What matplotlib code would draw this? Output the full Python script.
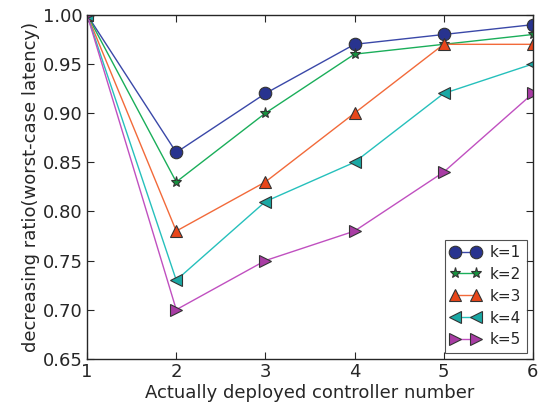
import numpy as np
import matplotlib.pyplot as plt

# controller count on the x axis
controllers = [1, 2, 3, 4, 5, 6]

# worst-case latency decreasing ratio for each k
k1 = [1.00, 0.86, 0.92, 0.97, 0.98, 0.99]
k2 = [1.00, 0.83, 0.90, 0.96, 0.97, 0.98]
k3 = [1.00, 0.78, 0.83, 0.90, 0.97, 0.97]
k4 = [1.00, 0.73, 0.81, 0.85, 0.92, 0.95]
k5 = [1.00, 0.70, 0.75, 0.78, 0.84, 0.92]

labels = ["k=1", "k=2", "k=3", "k=4", "k=5"]
series = [k1, k2, k3, k4, k5]
markers = ["o", "*", "^", "<", ">"]
line_colors = ["#3a48a8", "#1aae5a", "#f26a3a", "#26c0bc", "#c050c0"]
face_colors = ["#28338f", "#17923f", "#e8461a", "#1aa8a4", "#a83ca4"]
sizes = [9, 8, 9, 9, 9]

text_col = "#262626"
plt.rcParams["font.family"] = "DejaVu Sans"
plt.rcParams["font.size"] = 13

fig = plt.figure(figsize=(5.55, 4.12), dpi=100)
ax = fig.add_axes([0.157, 0.129, 0.803, 0.835])

for y, lab, m, lc, fc, ms in zip(series, labels, markers, line_colors, face_colors, sizes):
    ax.plot(controllers, y, marker=m, color=lc, markerfacecolor=fc,
            markeredgecolor="#333333", markeredgewidth=0.8,
            markersize=ms, linewidth=1.0, label=lab)

ax.set_xlim(1, 6)
ax.set_ylim(0.65, 1.00)
ax.set_xticks(controllers)
ax.set_yticks(np.arange(0.65, 1.001, 0.05))
ax.set_yticklabels([f"{v:.2f}" for v in np.arange(0.65, 1.001, 0.05)])

ax.tick_params(direction="in", top=True, right=True, length=5,
               colors=text_col, labelsize=13, pad=3)
for s in ax.spines.values():
    s.set_color(text_col)
    s.set_linewidth(1.0)

ax.set_xlabel("Actually deployed controller number", color=text_col, fontsize=13, labelpad=2)
ax.set_ylabel("decreasing ratio(worst-case latency)", color=text_col, fontsize=13, labelpad=2)

leg = ax.legend(loc="lower right", fontsize=11, frameon=True, fancybox=False,
                numpoints=2, borderpad=0.35, labelspacing=0.45, handlelength=2.0,
                handletextpad=0.6, borderaxespad=0.4)
leg.get_frame().set_edgecolor(text_col)
leg.get_frame().set_linewidth(0.8)
for t in leg.get_texts():
    t.set_color(text_col)

fig.savefig("out.png", dpi=100)
